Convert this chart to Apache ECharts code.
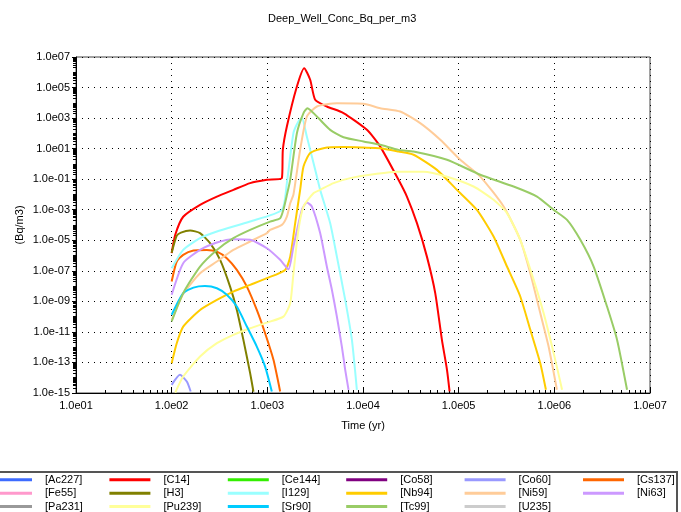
<!DOCTYPE html>
<html><head><meta charset="utf-8">
<script src="https://cdn.jsdelivr.net/npm/echarts@6/dist/echarts.min.js"></script>
<style>html,body{margin:0;padding:0;background:#fff}#c{width:681px;height:512px}</style>
</head><body><div id="c"></div>
<script>
const names = ['[Ac227]','[C14]','[Ce144]','[Co58]','[Co60]','[Cs137]','[Fe55]','[H3]','[I129]','[Nb94]','[Ni59]','[Ni63]','[Pa231]','[Pu239]','[Sr90]','[Tc99]','[U235]'];
const colors = ['#3d6bff','#ff0000','#33ee00','#800080','#9999ff','#ff6600','#ff99cc','#808000','#99ffff','#ffcc00','#ffcc99','#cc99ff','#999999','#ffff99','#00ccff','#99cc66','#cccccc'];
const xTickValues = [1e1,1e2,1e3,1e4,1e5,1e6,1e7];
const xTickLabels = ['1.0e01','1.0e02','1.0e03','1.0e04','1.0e05','1.0e06','1.0e07'];
const yTickValues = [1e-15,1e-13,1e-11,1e-9,1e-7,1e-5,1e-3,1e-1,1e1,1e3,1e5,1e7];
const yTickLabels = ['1.0e-15','1.0e-13','1.0e-11','1.0e-09','1.0e-07','1.0e-05','1.0e-03','1.0e-01','1.0e01','1.0e03','1.0e05','1.0e07'];

// [time (yr), concentration (Bq/m3)]
const Ac227 = [];
const C14 = [[100,1.45e-6],[109,2.29e-5],[132,3.47e-4],[198,2.09e-3],[297,7.24e-3],[442,2.0e-2],[661,5.5e-2],[989,9.1e-2],[1419,0.117],[1452,8.3],[1600,282],[2037,1.17e5],[2427,1.86e6],[2805,3.24e5],[3162,1.58e4],[4188,5.75e3],[6252,2.14e3],[10990,170],[15140,13.5],[23500,9.1e-2],[28770,7.24e-3],[36640,1.32e-4],[46560,8.5e-7],[56890,3.47e-9],[66830,3.0e-12],[75510,3.3e-14],[80350,1.26e-15]];
const Ce144 = [];
const Co58 = [];
const Co60 = [[100,3.4e-15],[122,1.55e-14],[144,5.6e-15],[158,1.26e-15]];
const Cs137 = [[100,2.0e-8],[113,4.07e-7],[132,1.12e-6],[169,2.14e-6],[233,2.34e-6],[297,1.82e-6],[377,6.76e-7],[480,1.15e-7],[611,9.3e-9],[776,2.75e-10],[948,8.1e-12],[1159,1.48e-13],[1361,1.26e-15]];
const Fe55 = [];
const H3 = [[100,1.5e-6],[113,2.0e-5],[125,3.2e-5],[156,4.4e-5],[198,2.95e-5],[252,6.46e-6],[321,5.25e-7],[408,9.3e-9],[480,2.75e-10],[562,3.0e-12],[661,2.0e-14],[716,1.2e-15]];
const I129 = [[100,1.48e-7],[132,2.34e-6],[198,1.38e-5],[297,3.72e-5],[661,1.70e-4],[1419,9.8e-4],[1600,5.5e-2],[1875,105],[2113,603],[2296,1000],[2588,61.7],[3296,0.148],[3565,2.0e-2],[4539,1.32e-4],[5333,8.5e-7],[6516,1.26e-9],[7656,3.0e-12],[8630,1.62e-15]];
const Nb94 = [[100,8.9e-14],[113,1.82e-12],[132,2.24e-11],[198,2.75e-10],[297,1.26e-9],[442,4.37e-9],[661,1.2e-8],[989,3.3e-8],[1535,1.15e-7],[1734,8.5e-7],[1955,1.32e-4],[2203,2.0e-2],[2388,0.676],[2805,5.13],[3864,10.7],[6252,12.6],[10120,11.7],[15140,10.7],[23500,6.46],[33730,3.98],[59290,0.407],[95940,2.0e-2],[155200,9.8e-4],[231700,1.78e-5],[319900,1.91e-7],[440600,2.09e-9],[561000,1.38e-11],[712900,8.9e-14],[816600,1.62e-15]];
const Ni59 = [[100,6.0e-11],[132,3.0e-9],[198,6.9e-8],[297,4.07e-7],[442,2.34e-6],[661,8.3e-6],[989,2.95e-5],[1069,4.79e-5],[1419,1.02e-4],[1600,3.55e-4],[1734,2.63e-3],[1875,1.0e-2],[2203,8.3],[2588,1.26e3],[3296,5.75e3],[5333,9.33e3],[10120,8.71e3],[15140,4.47e3],[24490,2.69e3],[39630,468],[64270,38],[104000,1.86],[168300,0.148],[295100,1.62e-3],[440600,1.07e-5],[561000,6.9e-8],[712900,1.70e-10],[871000,1.10e-12],[1064000,1.62e-15]];
const Ni63 = [[100,2.69e-9],[132,3.16e-7],[198,2.34e-6],[297,7.08e-6],[442,1.17e-5],[661,1.07e-5],[989,3.02e-6],[1361,5.25e-7],[1663,1.26e-7],[1875,3.89e-6],[2296,9.8e-4],[2588,2.95e-3],[2924,1.62e-3],[3565,2.95e-5],[4188,1.91e-7],[4732,5.62e-9],[5333,1.0e-10],[6012,1.10e-12],[6516,3.3e-14],[7063,1.62e-15]];
const Pa231 = [];
const Pu239 = [[109,1.07e-15],[132,1.2e-14],[198,2.45e-13],[297,1.82e-12],[442,6.46e-12],[661,1.74e-11],[989,4.07e-11],[1472,1.0e-10],[1734,7.6e-10],[1875,6.9e-8],[2113,4.79e-5],[2388,1.62e-3],[3034,1.2e-2],[3565,2.0e-2],[4920,5.5e-2],[7345,0.117],[13960,0.224],[22650,0.309],[42950,0.309],[75510,0.145],[143200,3.31e-2],[231700,4.47e-3],[319900,6.03e-4],[440600,1.07e-5],[608100,2.57e-8],[772700,1.70e-10],[984000,4.07e-13],[1205000,1.62e-15]];
const Sr90 = [[100,1.32e-10],[132,3.47e-9],[169,7.94e-9],[223,1.0e-8],[297,7.24e-9],[377,2.69e-9],[480,4.57e-10],[611,2.24e-11],[776,1.10e-12],[948,5.37e-14],[1114,1.26e-15]];
const Tc99 = [[100,4.79e-11],[132,3.47e-9],[198,1.91e-7],[297,2.34e-6],[442,1.38e-5],[661,4.79e-5],[1069,1.66e-4],[1361,2.75e-4],[1472,1.0e-3],[1600,9.1e-3],[1734,9.1e-2],[2037,102],[2388,2.14e3],[2630,4.47e3],[3296,1.26e3],[4539,170],[6252,56.2],[10120,29.5],[15140,17.8],[23500,8.3],[33730,6.46],[75510,1.86],[168300,0.195],[375000,3.31e-2],[659200,7.24e-3],[984000,9.8e-4],[1358000,2.19e-4],[1871000,1.07e-5],[2576000,1.91e-7],[3556000,4.57e-10],[4529000,3.0e-12],[5754000,1.62e-15]];
const U235 = [];

const seriesData = [Ac227,C14,Ce144,Co58,Co60,Cs137,Fe55,H3,I129,Nb94,Ni59,Ni63,Pa231,Pu239,Sr90,Tc99,U235];

const minorX = [];
for (let e = 1; e < 7; e++) for (let k = 2; k <= 9; k++) minorX.push(k * Math.pow(10, e));
const minorY = [];
for (let e = -15; e < 7; e++) for (let k = 1; k <= 9; k++) minorY.push(k * Math.pow(10, e));

function lookup(vals, labels, v) {
  const lv = Math.log10(v);
  for (let i = 0; i < vals.length; i++) if (Math.abs(Math.log10(vals[i]) - lv) < 1e-6) return labels[i];
  return '';
}

const FONT = 'Liberation Sans, Arial, sans-serif';
const legends = [];
for (let k = 0; k < 6; k++) {
  legends.push({
    orient: 'vertical', left: -9 + 118.4 * k, top: 473.3, height: 80,
    itemWidth: 41, itemHeight: 3, itemGap: 0.4, icon: 'rect', selectedMode: false,
    padding: 0,
    textStyle: { fontSize: 11, color: '#000', fontFamily: FONT, lineHeight: 13, padding: [0, 0, 0, 8] },
    data: names.filter((n, i) => i % 6 === k)
  });
}

const chart = echarts.init(document.getElementById('c'), null, { renderer: 'canvas' });
chart.setOption({
  animation: false,
  backgroundColor: '#fff',
  textStyle: { fontFamily: FONT },
  title: { text: 'Deep_Well_Conc_Bq_per_m3', left: 263, top: 8, textStyle: { fontSize: 11, fontWeight: 'normal', color: '#000', fontFamily: FONT } },
  grid: { left: 76, right: 31, top: 57, bottom: 119, show: true, borderColor: '#444', borderWidth: 1, backgroundColor: 'transparent' },
  legend: legends,
  graphic: [{ type: 'rect', shape: { x: -10, y: 472, width: 687, height: 60 }, style: { fill: 'none', stroke: '#555', lineWidth: 2 }, silent: true }],
  xAxis: [{
    type: 'log', logBase: 10, min: 10, max: 1e7, position: 'bottom',
    name: 'Time (yr)', nameLocation: 'middle', nameGap: 27, nameMoveOverlap: false,
    nameTextStyle: { fontSize: 11, color: '#000', fontFamily: FONT },
    axisLine: { lineStyle: { color: '#000', width: 1 } },
    axisTick: { inside: true, length: 5, customValues: xTickValues, lineStyle: { color: '#000' } },
    axisLabel: { customValues: xTickValues, color: '#000', fontSize: 11, margin: 7, fontFamily: FONT, formatter: v => lookup(xTickValues, xTickLabels, v) },
    splitLine: { show: true, lineStyle: { type: [1, 5], color: '#000', width: 1 } },
    minorTick: { show: false }, minorSplitLine: { show: false }
  }, {
    type: 'log', logBase: 10, min: 10, max: 1e7, position: 'bottom',
    axisLine: { show: false },
    axisTick: { show: true, inside: true, length: 3, customValues: minorX, lineStyle: { color: '#000' } },
    axisLabel: { show: false }, splitLine: { show: false }
  }],
  yAxis: [{
    type: 'log', logBase: 10, min: 1e-15, max: 1e7, position: 'left',
    name: '(Bq/m3)', nameLocation: 'middle', nameGap: 51, nameMoveOverlap: false,
    nameTextStyle: { fontSize: 11, color: '#000', fontFamily: FONT },
    axisLine: { show: true, lineStyle: { color: '#000', width: 1 } },
    axisTick: { show: true, inside: false, length: 4, customValues: yTickValues, lineStyle: { color: '#000' } },
    axisLabel: { customValues: yTickValues, color: '#000', fontSize: 11, margin: 6, fontFamily: FONT, formatter: v => lookup(yTickValues, yTickLabels, v) },
    splitLine: { show: true, lineStyle: { type: [1, 5], color: '#000', width: 1 } },
    minorTick: { show: false }, minorSplitLine: { show: false }
  }, {
    type: 'log', logBase: 10, min: 1e-15, max: 1e7, position: 'left',
    axisLine: { show: false },
    axisTick: { show: true, inside: false, length: 3, customValues: minorY, lineStyle: { color: '#000' } },
    axisLabel: { show: false }, splitLine: { show: false }
  }],
  series: names.map((n, i) => ({
    name: n, type: 'line', xAxisIndex: 0, yAxisIndex: 0,
    data: seriesData[i], showSymbol: false, symbol: 'none',
    smooth: 0.2,
    color: colors[i], lineStyle: { color: colors[i], width: 2 }, clip: true
  }))
});
</script>
</body></html>
